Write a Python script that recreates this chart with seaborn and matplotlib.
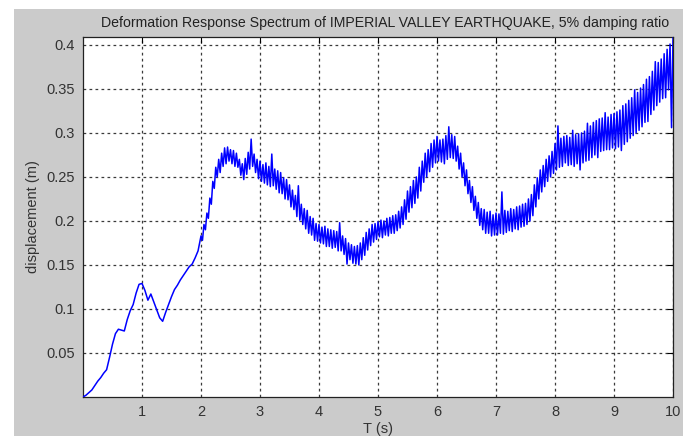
import numpy as np
import pandas as pd
import matplotlib
matplotlib.use("Agg")
import matplotlib.pyplot as plt
from matplotlib.patches import Rectangle
import seaborn as sns

# Spectral displacement (m). Short periods (0-2 s) are sampled every 0.05 s,
# longer periods (2-10 s) every 0.025 s where the spectrum becomes jagged.
coarse_step = 0.05
fine_step = 0.025

disp_0_1 = [0.000, 0.002, 0.005, 0.008, 0.013, 0.018, 0.022, 0.027, 0.031, 0.045,
            0.060, 0.072, 0.077, 0.076, 0.075, 0.088, 0.098, 0.105, 0.118, 0.128]
disp_1_2 = [0.129, 0.121, 0.110, 0.117, 0.108, 0.099, 0.090, 0.086, 0.096, 0.105,
            0.114, 0.122, 0.127, 0.133, 0.138, 0.143, 0.148, 0.151, 0.158, 0.166]

disp_2_3 = [0.183, 0.178, 0.196, 0.190, 0.209, 0.203, 0.226, 0.219, 0.245, 0.237,
            0.261, 0.250, 0.270, 0.255, 0.277, 0.262, 0.283, 0.265, 0.284, 0.268,
            0.281, 0.265, 0.280, 0.262, 0.277, 0.261, 0.270, 0.252, 0.265, 0.247,
            0.271, 0.253, 0.278, 0.259, 0.293, 0.262, 0.276, 0.255, 0.270, 0.248]
disp_3_4 = [0.268, 0.245, 0.264, 0.243, 0.266, 0.241, 0.262, 0.239, 0.276, 0.240,
            0.259, 0.236, 0.257, 0.232, 0.255, 0.231, 0.249, 0.225, 0.247, 0.224,
            0.241, 0.216, 0.235, 0.213, 0.229, 0.205, 0.240, 0.201, 0.219, 0.196,
            0.214, 0.191, 0.212, 0.186, 0.205, 0.184, 0.203, 0.178, 0.197, 0.177]
disp_4_5 = [0.196, 0.175, 0.193, 0.174, 0.194, 0.171, 0.191, 0.171, 0.190, 0.169,
            0.189, 0.170, 0.188, 0.166, 0.198, 0.166, 0.183, 0.162, 0.180, 0.151,
            0.175, 0.156, 0.173, 0.152, 0.171, 0.151, 0.172, 0.150, 0.175, 0.156,
            0.181, 0.161, 0.187, 0.167, 0.191, 0.172, 0.196, 0.176, 0.197, 0.179]
disp_5_6 = [0.199, 0.182, 0.201, 0.181, 0.200, 0.184, 0.203, 0.183, 0.204, 0.186,
            0.206, 0.186, 0.207, 0.189, 0.211, 0.192, 0.216, 0.196, 0.224, 0.202,
            0.234, 0.210, 0.239, 0.215, 0.246, 0.220, 0.250, 0.226, 0.261, 0.234,
            0.268, 0.244, 0.277, 0.250, 0.281, 0.256, 0.288, 0.261, 0.292, 0.266]
disp_6_7 = [0.296, 0.268, 0.292, 0.267, 0.293, 0.265, 0.297, 0.270, 0.307, 0.272,
            0.298, 0.271, 0.296, 0.268, 0.285, 0.259, 0.277, 0.250, 0.266, 0.240,
            0.258, 0.231, 0.246, 0.221, 0.239, 0.212, 0.228, 0.203, 0.221, 0.195,
            0.214, 0.190, 0.213, 0.186, 0.210, 0.186, 0.211, 0.183, 0.207, 0.184]
disp_7_8 = [0.209, 0.184, 0.208, 0.186, 0.233, 0.185, 0.212, 0.187, 0.211, 0.189,
            0.214, 0.188, 0.213, 0.191, 0.216, 0.190, 0.217, 0.193, 0.219, 0.194,
            0.220, 0.196, 0.225, 0.200, 0.230, 0.206, 0.241, 0.216, 0.249, 0.225,
            0.258, 0.233, 0.263, 0.239, 0.270, 0.245, 0.274, 0.250, 0.279, 0.254]
disp_8_9 = [0.288, 0.258, 0.308, 0.261, 0.294, 0.262, 0.296, 0.266, 0.297, 0.263,
            0.295, 0.264, 0.303, 0.262, 0.298, 0.265, 0.299, 0.258, 0.300, 0.266,
            0.302, 0.268, 0.311, 0.269, 0.308, 0.272, 0.312, 0.275, 0.314, 0.272,
            0.316, 0.279, 0.317, 0.280, 0.323, 0.281, 0.318, 0.281, 0.321, 0.283]
disp_9_10 = [0.322, 0.282, 0.324, 0.284, 0.326, 0.280, 0.331, 0.287, 0.333, 0.290,
             0.337, 0.294, 0.340, 0.297, 0.349, 0.300, 0.346, 0.303, 0.351, 0.307,
             0.355, 0.312, 0.361, 0.313, 0.364, 0.321, 0.370, 0.326, 0.381, 0.331,
             0.380, 0.335, 0.384, 0.339, 0.390, 0.340, 0.395, 0.349, 0.401, 0.306,
             0.408]

x_ticks = [1, 2, 3, 4, 5, 6, 7, 8, 9, 10]
x_tick_labels = ["1", "2", "3", "4", "5", "6", "7", "8", "9", "10"]
y_ticks = [0.05, 0.10, 0.15, 0.20, 0.25, 0.30, 0.35, 0.40]
y_tick_labels = ["0.05", "0.1", "0.15", "0.2", "0.25", "0.3", "0.35", "0.4"]

title_text = "Deformation Response Spectrum of IMPERIAL VALLEY EARTHQUAKE, 5% damping ratio"
x_label = "T (s)"
y_label = "displacement (m)"

short_disp = disp_0_1 + disp_1_2
long_disp = disp_2_3 + disp_3_4 + disp_4_5 + disp_5_6 + disp_6_7 + disp_7_8 + disp_8_9 + disp_9_10
period = np.concatenate([np.arange(len(short_disp)) * coarse_step,
                         2.0 + np.arange(len(long_disp)) * fine_step])
df = pd.DataFrame({"T": np.round(period, 4), "disp": short_disp + long_disp})

sns.set_theme(style="white")
plt.rcParams["font.family"] = ["Liberation Sans", "DejaVu Sans"]

W, H = 695, 436
fig = plt.figure(figsize=(W / 100, H / 100), dpi=100, facecolor="white")

# grey figure panel behind the axes
panel = Rectangle((14 / W, 0), (683 - 14) / W, (H - 9) / H,
                  transform=fig.transFigure, facecolor="#cbcbcb",
                  edgecolor="none", zorder=-10)
fig.add_artist(panel)

ax = fig.add_axes([83 / W, 1 - 397 / H, (673 - 83) / W, (397 - 37) / H])
ax.set_zorder(1)
ax.set_facecolor("white")

sns.lineplot(data=df, x="T", y="disp", ax=ax, color="#0000ff", linewidth=1.1,
             estimator=None, sort=False, zorder=3)

ax.set_xlim(0, 10)
ax.set_ylim(0, 0.409)
ax.set_xticks(x_ticks)
ax.set_xticklabels(x_tick_labels)
ax.set_yticks(y_ticks)
ax.set_yticklabels(y_tick_labels)

ax.grid(True, color="#3a3a3a", linestyle=(0, (2.2, 2.6)), linewidth=0.9, zorder=1)
ax.tick_params(direction="in", length=4, width=0.8, color="black",
               top=True, right=True, labelsize=10.5, labelcolor="#333333", pad=6)
for s in ax.spines.values():
    s.set_color("#222222")
    s.set_linewidth(0.9)

ax.set_title(title_text, fontsize=10.2, color="#222222", pad=7, x=0.512)
ax.set_xlabel(x_label, fontsize=10.5, color="#333333", labelpad=2)
ax.set_ylabel(y_label, fontsize=10.5, color="#333333", labelpad=4)

fig.savefig("out.png", dpi=100, facecolor="white")
